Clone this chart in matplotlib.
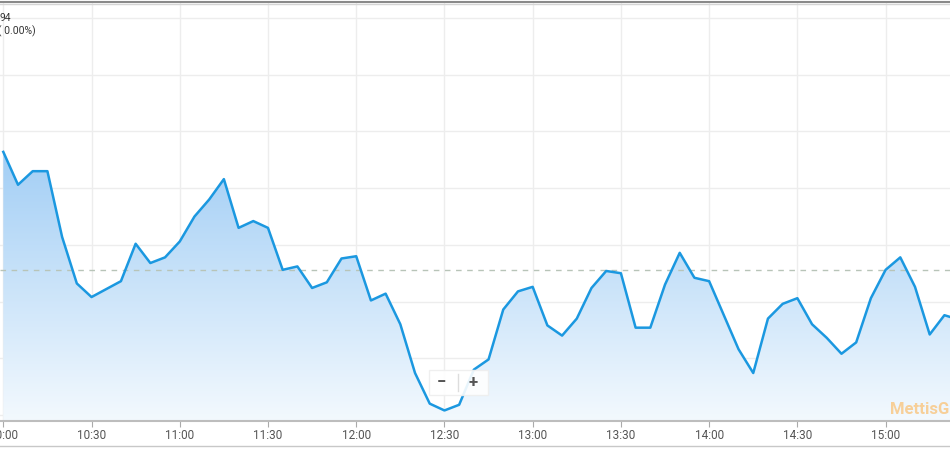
import numpy as np
import matplotlib.pyplot as plt
from matplotlib.lines import Line2D
from matplotlib.patches import FancyBboxPatch, Polygon
from matplotlib.colors import LinearSegmentedColormap

plt.rcParams['font.family'] = ['Roboto', 'DejaVu Sans']

# minutes after 10:00, 5-minute bars
minutes = np.arange(0, 330, 5)
index = [40232, 40203, 40215, 40215, 40157, 40116, 40104, 40111, 40118, 40151,
         40134, 40139, 40153, 40175, 40190, 40208, 40165, 40171, 40165, 40128,
         40131, 40112, 40117, 40138, 40140, 40101, 40107, 40080, 40037, 40010,
         40004, 40009, 40040, 40049, 40093, 40109, 40113, 40079, 40070, 40085,
         40112, 40127, 40125, 40077, 40077, 40115, 40143, 40121, 40118, 40088,
         40058, 40037, 40085, 40098, 40103, 40080, 40068, 40054, 40064, 40103,
         40128, 40139, 40113, 40071, 40088, 40084]
prev_close = 40127.94
tick_min = [0, 30, 60, 90, 120, 150, 180, 210, 240, 270, 300]
tick_lab = ['10:00', '10:30', '11:00', '11:30', '12:00', '12:30',
            '13:00', '13:30', '14:00', '14:30', '15:00']
grid_vals = np.arange(40000, 40351, 50)

W, H = 950, 450
fig = plt.figure(figsize=(9.5, 4.5), dpi=100)
ax = fig.add_axes([0, (H - 421) / H, 1, (421 - 3) / H])

x0, x1 = -1.12, 321.9
y0, y1 = 39994.7, 40363.3
ax.set_xlim(x0, x1)
ax.set_ylim(y0, y1)

# gradient fill under the line
cmap = LinearSegmentedColormap.from_list('fill', ['#f3f9fe', '#a2cef5'])
grad = np.linspace(0, 1, 256).reshape(-1, 1)
im = ax.imshow(grad, cmap=cmap, aspect='auto', origin='lower',
               extent=[x0, x1, y0, max(index)], zorder=1)
verts = [(minutes[0], y0)] + list(zip(minutes, index)) + [(minutes[-1], y0)]
clip = Polygon(verts, closed=True, facecolor='none', edgecolor='none')
ax.add_patch(clip)
im.set_clip_path(clip)

ax.plot(minutes, index, color='#1b98e0', lw=1.8, zorder=3)
ax.axhline(prev_close, color='#b8c4b8', lw=1, ls=(0, (4, 4)), zorder=2)

ax.set_yticks(grid_vals)
ax.set_xticks(tick_min)
ax.set_xticklabels(tick_lab)
ax.grid(True, color='#ededed', lw=1, zorder=0)
ax.set_axisbelow(True)
ax.tick_params(axis='y', left=False, labelleft=False)
ax.tick_params(axis='x', length=4, color='#aaaaaa', labelsize=8.5,
               labelcolor='#555555', pad=2)
for s in ['top', 'left', 'right']:
    ax.spines[s].set_visible(False)
ax.spines['bottom'].set_color('#bdbdbd')
ax.spines['bottom'].set_linewidth(1.5)

# frame lines of the widget
fig.add_artist(Line2D([0, 1], [1 - 1.5 / H, 1 - 1.5 / H], color='#8a8a8a', lw=1.5))
fig.add_artist(Line2D([0, 1], [1 - 3.5 / H, 1 - 3.5 / H], color='#d5d5d5', lw=1))
fig.add_artist(Line2D([0, 1], [1 - 446 / H, 1 - 446 / H], color='#c8c8c8', lw=1))

# header text (cut off at left)
fig.text(0, 1 - 18 / H, '94', fontsize=7.5, color='#333333', va='center', ha='left')
fig.text(-0.002, 1 - 31 / H, '( 0.00%)', fontsize=7.5, color='#333333', va='center', ha='left')

# watermark
fig.text(890 / W, 1 - 409 / H, 'MettisGlobal', fontsize=12, fontweight='bold',
         color='#f7cf98', va='center', ha='left', zorder=4)

# zoom buttons
box = FancyBboxPatch((429 / W, 1 - 395 / H), 59 / W, 25 / H,
                     boxstyle='square,pad=0', transform=fig.transFigure,
                     facecolor='white', edgecolor='#eeeeee', lw=1, alpha=0.9, zorder=5)
fig.add_artist(box)
fig.add_artist(Line2D([458 / W, 458 / W], [1 - 391 / H, 1 - 374 / H],
                      color='#dddddd', lw=1, zorder=6))
fig.text(441 / W, 1 - 382.5 / H, '\u2212', fontsize=12, fontweight='bold',
         color='#555555', ha='center', va='center', zorder=6)
fig.text(473 / W, 1 - 382.5 / H, '+', fontsize=12, fontweight='bold',
         color='#555555', ha='center', va='center', zorder=6)

fig.savefig('out.png', dpi=100)
